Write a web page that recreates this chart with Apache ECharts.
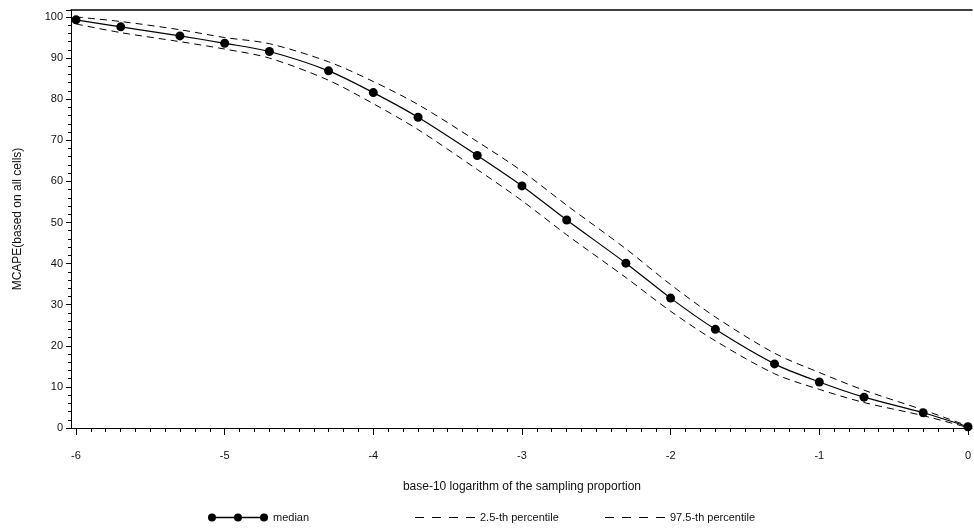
<!DOCTYPE html>
<html>
<head>
<meta charset="utf-8">
<script src="https://cdn.jsdelivr.net/npm/echarts@6.0.0/dist/echarts.min.js"></script>
<style>
  html, body { margin: 0; padding: 0; background: #fff; }
  #chart { width: 974px; height: 531px; }
</style>
</head>
<body>
<div id="chart"></div>
<script>
// log10 of the sampling proportion
const logP = [-6, -5.699, -5.301, -5, -4.699, -4.301, -4, -3.699, -3.301, -3,
  -2.699, -2.301, -2, -1.699, -1.301, -1, -0.699, -0.301, 0];
const median = [99.3, 97.6, 95.4, 93.6, 91.6, 86.9, 81.6, 75.6, 66.3, 58.9,
  50.6, 40.1, 31.6, 24.0, 15.6, 11.2, 7.5, 3.7, 0.3];
const lower = [98.3, 96.2, 94.0, 92.2, 90.0, 84.6, 78.9, 72.6, 62.9, 55.3,
  47.0, 36.6, 28.4, 21.2, 13.2, 9.4, 6.2, 3.0, 0.1];
const upper = [100.0, 98.9, 96.9, 95.0, 93.5, 89.1, 84.3, 78.7, 69.7, 62.5,
  54.2, 43.6, 34.9, 27.0, 18.2, 13.5, 9.2, 4.4, 0.5];

const pairs = (ys) => logP.map((x, i) => [x, ys[i]]);

const font = 'Liberation Sans, Arial, sans-serif';
const ink = '#111';

// legend icons: line with three dots, and four dashes
const medianIcon = 'path://M0,3.3H60V4.7H0Z' +
  'M0,4A4,4,0,1,1,8,4A4,4,0,1,1,0,4Z' +
  'M26,4A4,4,0,1,1,34,4A4,4,0,1,1,26,4Z' +
  'M52,4A4,4,0,1,1,60,4A4,4,0,1,1,52,4Z';
const dashIcon = 'path://M0,0H9V1H0Z M17,0H26V1H17Z M34,0H43V1H34Z M51,0H60V1H51Z';

const chart = echarts.init(document.getElementById('chart'));

const legendBase = {
  top: 507,
  itemWidth: 60,
  itemGap: 5,
  textStyle: { fontFamily: font, fontSize: 11, color: ink }
};

const option = {
  animation: false,
  backgroundColor: '#fff',
  textStyle: { fontFamily: font },
  grid: [
    { left: 71, right: 2, top: 10, bottom: 103 },
    { left: 76, right: 2, top: 10, bottom: 103 }
  ],
  legend: [
    Object.assign({}, legendBase, { left: 203, itemHeight: 8, data: [{ name: 'median', icon: medianIcon }] }),
    Object.assign({}, legendBase, { left: 410, itemHeight: 1, data: [{ name: '2.5-th percentile', icon: dashIcon }] }),
    Object.assign({}, legendBase, { left: 600, itemHeight: 1, data: [{ name: '97.5-th percentile', icon: dashIcon }] })
  ],
  xAxis: [
    {
      gridIndex: 0, type: 'value', min: 0, max: 1,
      axisLine: { show: true, lineStyle: { color: '#000', width: 1 } },
      axisTick: { show: false }, axisLabel: { show: false }, splitLine: { show: false }
    },
    {
      gridIndex: 0, type: 'value', position: 'top', min: 0, max: 1,
      axisLine: { show: true, lineStyle: { color: '#000', width: 1.5 } },
      axisTick: { show: false }, axisLabel: { show: false }, splitLine: { show: false }
    },
    {
      gridIndex: 1, type: 'value', min: -6, max: 0, interval: 1,
      axisLine: { show: true, onZero: false, lineStyle: { color: '#000' } },
      axisTick: { show: true, length: 7, lineStyle: { color: '#000' } },
      minorTick: { show: true, splitNumber: 10, length: 4, lineStyle: { color: '#000' } },
      axisLabel: { margin: 22, fontSize: 11, color: ink, fontFamily: font },
      splitLine: { show: false },
      name: 'base-10 logarithm of the sampling proportion',
      nameLocation: 'middle',
      nameGap: 53,
      nameTextStyle: { fontSize: 12, color: ink, fontFamily: font }
    }
  ],
  yAxis: [
    {
      gridIndex: 0, type: 'value', min: 0, max: 101.7, interval: 10,
      axisLine: { show: true, lineStyle: { color: '#000' } },
      axisTick: { show: true, length: 5, lineStyle: { color: '#000' } },
      minorTick: { show: true, splitNumber: 5, length: 3, lineStyle: { color: '#000' } },
      axisLabel: {
        margin: 8, fontSize: 11, color: ink, fontFamily: font,
        formatter: (v) => (Math.abs(v % 10) < 1e-6 ? String(v) : '')
      },
      splitLine: { show: false },
      name: 'MCAPE(based on all cells)',
      nameLocation: 'middle',
      nameGap: 47,
      nameTextStyle: { fontSize: 12, color: ink, fontFamily: font }
    },
    { gridIndex: 1, type: 'value', min: 0, max: 101.7, show: false }
  ],
  series: [
    {
      name: 'median', type: 'line', xAxisIndex: 2, yAxisIndex: 1,
      data: pairs(median), smooth: 0.3,
      symbol: 'circle', symbolSize: 9,
      itemStyle: { color: '#000' },
      lineStyle: { color: '#000', width: 1.2 },
      z: 3
    },
    {
      name: '2.5-th percentile', type: 'line', xAxisIndex: 2, yAxisIndex: 1,
      data: pairs(lower), smooth: 0.3, symbol: 'none',
      itemStyle: { color: '#000' },
      lineStyle: { color: '#000', width: 1, type: [7, 5] }
    },
    {
      name: '97.5-th percentile', type: 'line', xAxisIndex: 2, yAxisIndex: 1,
      data: pairs(upper), smooth: 0.3, symbol: 'none',
      itemStyle: { color: '#000' },
      lineStyle: { color: '#000', width: 1, type: [7, 5] }
    }
  ]
};

chart.setOption(option);
</script>
</body>
</html>
